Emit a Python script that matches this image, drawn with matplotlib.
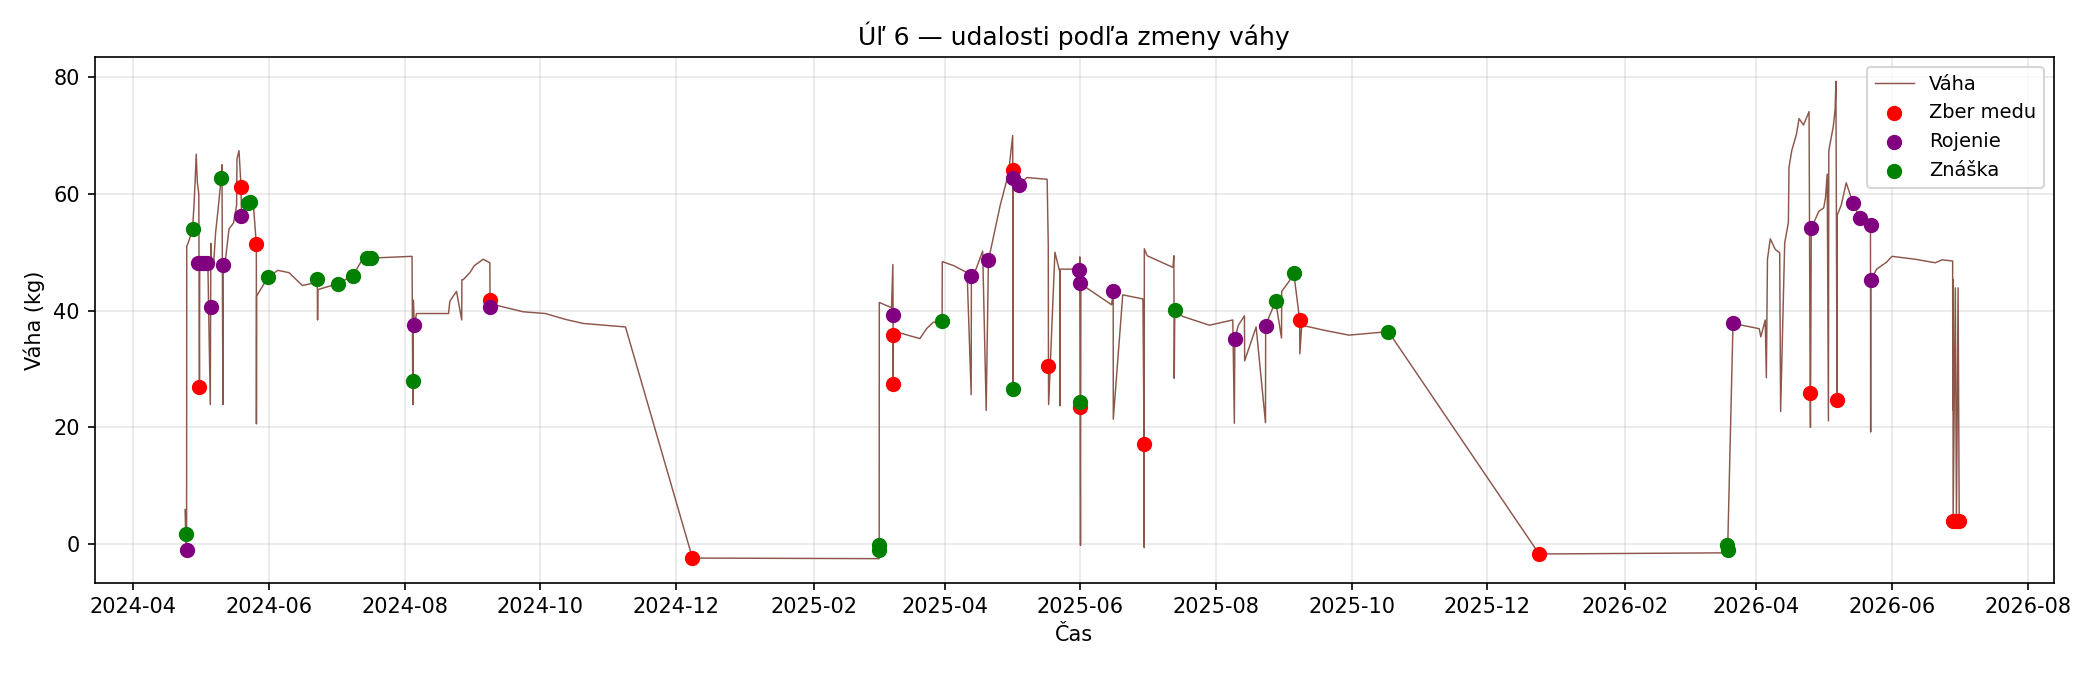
import matplotlib
matplotlib.use("Agg")
import matplotlib.pyplot as plt
import matplotlib.dates as mdates
from matplotlib.ticker import MultipleLocator
import pandas as pd

# --- vaha ula (kg) ---
vaha_cas = [
    "2024-04-24 06:00", "2024-04-24 12:00", "2024-04-24 22:00", "2024-04-25 00:00", "2024-04-26 00:00",
    "2024-04-27 14:00", "2024-04-28 06:00", "2024-04-28 18:00", "2024-04-29 06:00", "2024-04-29 18:00",
    "2024-04-30 10:00", "2024-04-30 17:00", "2024-04-30 20:00", "2024-05-01 12:00", "2024-05-03 00:00",
    "2024-05-04 12:00", "2024-05-05 14:00", "2024-05-05 17:00", "2024-05-05 20:00", "2024-05-06 06:00",
    "2024-05-07 00:00", "2024-05-08 00:00", "2024-05-09 00:00", "2024-05-10 12:00", "2024-05-10 20:00",
    "2024-05-11 06:00", "2024-05-11 08:00", "2024-05-12 12:00", "2024-05-14 00:00", "2024-05-16 00:00",
    "2024-05-17 10:00", "2024-05-17 14:00", "2024-05-18 12:00", "2024-05-19 10:00", "2024-05-19 14:00",
    "2024-05-22 17:00", "2024-05-23 12:00", "2024-05-25 00:00", "2024-05-26 07:00", "2024-05-26 08:00",
    "2024-05-26 10:00", "2024-05-28 00:00", "2024-05-31 17:00", "2024-06-05 00:00", "2024-06-10 00:00",
    "2024-06-16 00:00", "2024-06-22 00:00", "2024-06-22 17:00", "2024-06-22 20:00", "2024-06-23 00:00",
    "2024-07-01 20:00", "2024-07-08 18:00", "2024-07-13 08:00", "2024-07-15 03:00", "2024-07-16 22:00",
    "2024-08-04 08:00", "2024-08-04 15:00", "2024-08-04 18:00", "2024-08-04 22:00", "2024-08-05 08:00",
    "2024-08-06 08:00", "2024-08-20 18:00", "2024-08-21 08:00", "2024-08-24 08:00", "2024-08-26 16:00",
    "2024-08-26 18:00", "2024-08-27 08:00", "2024-08-30 08:00", "2024-09-01 08:00", "2024-09-05 08:00",
    "2024-09-08 08:00", "2024-09-08 10:00", "2024-09-08 12:00", "2024-09-10 08:00", "2024-09-23 08:00",
    "2024-10-03 08:00", "2024-10-12 08:00", "2024-10-20 08:00", "2024-11-08 08:00", "2024-12-08 11:00",
    "2025-03-02 10:00", "2025-03-02 11:00", "2025-03-02 12:00", "2025-03-08 00:00", "2025-03-08 14:00",
    "2025-03-08 17:00", "2025-03-08 18:00", "2025-03-08 20:00", "2025-03-09 18:00", "2025-03-20 18:00",
    "2025-03-23 18:00", "2025-03-26 18:00", "2025-03-30 18:00", "2025-03-30 20:00", "2025-04-05 00:00",
    "2025-04-11 00:00", "2025-04-12 20:00", "2025-04-12 22:00", "2025-04-15 00:00", "2025-04-18 00:00",
    "2025-04-19 14:00", "2025-04-20 14:00", "2025-04-25 22:00", "2025-04-29 14:00", "2025-05-01 12:00",
    "2025-05-01 13:00", "2025-05-01 14:00", "2025-05-01 16:00", "2025-05-04 12:00", "2025-05-07 21:00",
    "2025-05-17 00:00", "2025-05-17 12:00", "2025-05-17 14:00", "2025-05-17 16:00", "2025-05-20 12:00",
    "2025-05-22 18:00", "2025-05-22 19:00", "2025-05-22 20:00", "2025-05-28 00:00", "2025-05-31 12:00",
    "2025-05-31 14:00", "2025-05-31 16:00", "2025-06-01 00:00", "2025-06-01 04:00", "2025-06-02 05:00",
    "2025-06-15 00:00", "2025-06-15 17:00", "2025-06-15 18:00", "2025-06-20 00:00", "2025-06-29 02:00",
    "2025-06-29 14:00", "2025-06-29 16:00", "2025-06-29 17:00", "2025-07-01 00:00", "2025-07-12 14:00",
    "2025-07-13 00:00", "2025-07-13 04:00", "2025-07-13 10:00", "2025-07-17 00:00", "2025-07-29 00:00",
    "2025-08-08 12:00", "2025-08-09 05:00", "2025-08-09 10:00", "2025-08-11 00:00", "2025-08-13 18:00",
    "2025-08-13 20:00", "2025-08-19 00:00", "2025-08-23 05:00", "2025-08-23 07:00", "2025-08-25 00:00",
    "2025-08-27 19:00", "2025-08-30 10:00", "2025-08-30 12:00", "2025-09-03 00:00", "2025-09-04 22:00",
    "2025-09-07 14:00", "2025-09-07 16:00", "2025-09-08 12:00", "2025-09-19 00:00", "2025-09-29 19:00",
    "2025-10-17 12:00", "2025-12-24 07:00", "2026-03-19 00:00", "2026-03-19 01:00", "2026-03-19 02:00",
    "2026-03-21 12:00", "2026-03-21 17:00", "2026-03-25 12:00", "2026-04-02 07:00", "2026-04-03 00:00",
    "2026-04-05 00:00", "2026-04-05 12:00", "2026-04-06 00:00", "2026-04-07 06:00", "2026-04-09 12:00",
    "2026-04-11 12:00", "2026-04-11 22:00", "2026-04-13 18:00", "2026-04-15 10:00", "2026-04-15 16:00",
    "2026-04-16 22:00", "2026-04-19 02:00", "2026-04-20 05:00", "2026-04-22 05:00", "2026-04-24 17:00",
    "2026-04-25 05:00", "2026-04-25 08:00", "2026-04-25 17:00", "2026-04-29 02:00", "2026-05-01 07:00",
    "2026-05-02 02:00", "2026-05-02 21:00", "2026-05-03 10:00", "2026-05-03 14:00", "2026-05-05 14:00",
    "2026-05-06 10:00", "2026-05-06 19:00", "2026-05-07 07:00", "2026-05-07 10:00", "2026-05-09 05:00",
    "2026-05-11 10:00", "2026-05-14 10:00", "2026-05-17 14:00", "2026-05-22 08:00", "2026-05-22 10:00",
    "2026-05-22 11:00", "2026-05-25 02:00", "2026-05-29 14:00", "2026-06-01 00:00", "2026-06-11 12:00",
    "2026-06-20 12:00", "2026-06-23 12:00", "2026-06-28 07:00", "2026-06-28 09:00", "2026-06-28 11:00",
    "2026-06-28 12:00", "2026-06-29 12:00", "2026-06-30 00:00", "2026-06-30 18:00", "2026-07-01 06:00",
]
vaha_kg = [
    5.9, 1.8, -1.1, 51.0, 52.0,
    53.9, 58.0, 62.0, 66.8, 62.0,
    60.0, 26.9, 49.0, 48.5, 49.0,
    48.0, 23.9, 40.6, 51.5, 47.1,
    47.5, 53.5, 57.0, 62.8, 65.0,
    23.9, 47.9, 49.0, 54.0, 55.0,
    58.0, 66.0, 67.4, 61.2, 56.2,
    58.5, 58.6, 58.0, 51.4, 20.6,
    42.5, 43.5, 45.8, 46.9, 46.5,
    44.3, 44.8, 45.4, 38.4, 43.6,
    44.6, 46.0, 49.0, 49.0, 49.0,
    49.3, 27.9, 23.9, 41.8, 37.5,
    39.5, 39.5, 41.6, 43.3, 38.4,
    45.3, 45.3, 46.5, 47.7, 48.8,
    48.2, 41.9, 40.6, 41.0, 39.8,
    39.5, 38.5, 37.8, 37.2, -2.4,
    -2.5, -1.1, 41.4, 40.5, 47.9,
    39.3, 27.5, 35.8, 36.4, 35.2,
    36.9, 38.0, 38.2, 48.4, 47.7,
    46.5, 25.6, 46.0, 47.1, 50.2,
    22.9, 48.6, 58.1, 63.4, 70.0,
    64.1, 26.6, 62.8, 61.6, 62.8,
    62.5, 51.2, 30.5, 23.9, 50.0,
    46.5, 23.7, 47.1, 47.1, 47.0,
    44.8, 49.2, -0.2, 44.8, 44.3,
    41.0, 43.4, 21.4, 42.7, 42.0,
    17.1, -0.6, 50.6, 49.4, 47.4,
    49.4, 28.4, 40.1, 39.0, 37.5,
    38.4, 20.7, 35.1, 37.5, 39.1,
    31.4, 37.2, 20.8, 37.4, 39.1,
    41.6, 35.3, 43.3, 45.1, 46.5,
    38.4, 32.6, 37.5, 36.6, 35.8,
    36.4, -1.7, -1.5, -0.1, -1.1,
    37.8, 37.9, 37.5, 36.9, 35.5,
    38.4, 28.5, 48.8, 52.3, 50.5,
    49.9, 22.7, 51.6, 55.1, 64.5,
    67.4, 70.3, 72.9, 71.8, 74.1,
    25.9, 20.0, 54.1, 57.0, 57.6,
    59.3, 63.4, 21.1, 67.4, 71.5,
    74.4, 79.3, 24.6, 56.4, 58.1,
    61.9, 58.5, 55.8, 54.6, 19.2,
    45.2, 47.1, 48.3, 49.3, 48.8,
    48.2, 48.7, 48.5, 23.0, 45.3,
    3.95, 43.9, 3.95, 43.9, 3.95,
]

# --- udalosti ---
zber_cas = ["2024-04-30 17:00", "2024-05-19 10:00", "2024-05-26 07:00", "2024-09-08 10:00",
            "2024-12-08 11:00", "2025-03-08 18:00", "2025-03-08 20:00", "2025-05-01 13:00",
            "2025-05-17 14:00", "2025-05-31 16:00", "2025-06-29 14:00", "2025-09-07 14:00",
            "2025-12-24 07:00", "2026-04-25 05:00", "2026-05-07 07:00", "2026-06-28 12:00",
            "2026-06-30 00:00", "2026-07-01 06:00"]
zber_kg = [26.9, 61.2, 51.4, 41.9, -2.4, 27.5, 35.8, 64.1,
           30.5, 23.5, 17.1, 38.4, -1.7, 25.9, 24.6, 3.95, 3.95, 3.95]

roj_cas = ["2024-04-24 22:00", "2024-04-29 20:00", "2024-05-01 00:00", "2024-05-02 06:00",
           "2024-05-03 22:00", "2024-05-05 17:00", "2024-05-11 08:00", "2024-05-19 14:00",
           "2024-08-05 08:00", "2024-09-08 12:00", "2025-03-08 17:00", "2025-04-12 22:00",
           "2025-04-20 14:00", "2025-05-01 16:00", "2025-05-04 12:00", "2025-05-31 12:00",
           "2025-05-31 14:00", "2025-06-15 17:00", "2025-08-09 10:00", "2025-08-23 07:00",
           "2026-03-21 17:00", "2026-04-25 17:00", "2026-05-14 10:00", "2026-05-17 14:00",
           "2026-05-22 10:00", "2026-05-22 11:00"]
roj_kg = [-1.1, 48.1, 48.1, 48.1, 48.1, 40.6, 47.9, 56.2,
          37.5, 40.6, 39.3, 46.0, 48.6, 62.8, 61.6, 47.0,
          44.8, 43.4, 35.1, 37.4, 37.9, 54.1, 58.5, 55.8,
          54.6, 45.2]

znaska_cas = ["2024-04-24 12:00", "2024-04-27 14:00", "2024-05-10 12:00", "2024-05-22 17:00",
              "2024-05-23 12:00", "2024-05-31 17:00", "2024-06-22 17:00", "2024-07-01 20:00",
              "2024-07-08 18:00", "2024-07-15 03:00", "2024-07-16 22:00", "2024-08-04 15:00",
              "2025-03-02 10:00", "2025-03-02 11:00", "2025-03-30 18:00", "2025-05-01 14:00",
              "2025-05-31 16:00", "2025-07-13 10:00", "2025-08-27 19:00", "2025-09-04 22:00",
              "2025-10-17 12:00", "2026-03-19 00:00", "2026-03-19 01:00"]
znaska_kg = [1.8, 53.9, 62.8, 58.5, 58.6, 45.8, 45.4, 44.6, 46.0, 49.0, 49.0, 27.9,
             -1.1, -0.2, 38.2, 26.6, 24.3, 40.1, 41.6, 46.5, 36.4, -0.1, -1.1]

fig, ax = plt.subplots(figsize=(14, 4.5), dpi=150)
ax.plot(pd.to_datetime(vaha_cas), vaha_kg, color="#8c564b", linewidth=0.7, label="Váha")
ax.scatter(pd.to_datetime(zber_cas), zber_kg, color="red", s=40, zorder=3, label="Zber medu")
ax.scatter(pd.to_datetime(roj_cas), roj_kg, color="purple", s=40, zorder=3, label="Rojenie")
ax.scatter(pd.to_datetime(znaska_cas), znaska_kg, color="green", s=40, zorder=3, label="Znáška")

ax.set_xlim(pd.Timestamp("2024-03-14 12:00"), pd.Timestamp("2026-08-12 19:00"))
ax.xaxis.set_major_locator(mdates.MonthLocator(bymonth=[2, 4, 6, 8, 10, 12]))
ax.xaxis.set_major_formatter(mdates.DateFormatter("%Y-%m"))
ax.yaxis.set_major_locator(MultipleLocator(20))
ax.set_title("Úľ 6 — udalosti podľa zmeny váhy")
ax.set_xlabel("Čas")
ax.set_ylabel("Váha (kg)")
ax.grid(alpha=0.3)
ax.legend(loc="upper right", fontsize=9.3)
fig.subplots_adjust(left=0.045, right=0.978, top=0.915, bottom=0.137)
plt.savefig("out.png")
